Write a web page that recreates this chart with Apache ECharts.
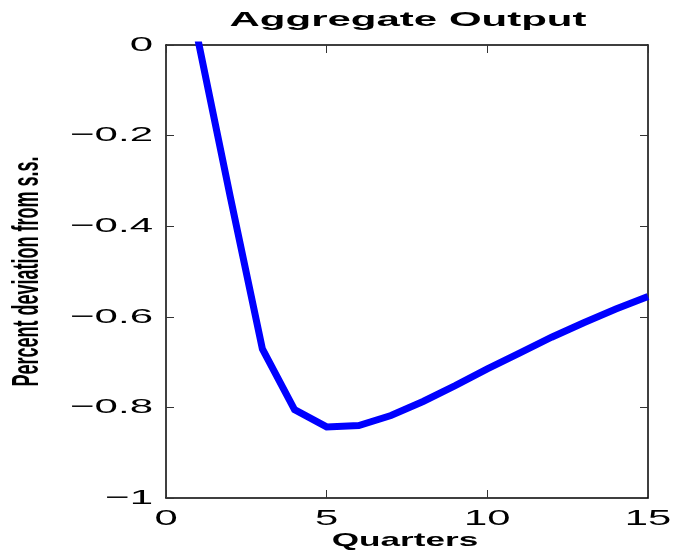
<!DOCTYPE html>
<html>
<head>
<meta charset="utf-8">
<title>Aggregate Output</title>
<script src="https://cdn.jsdelivr.net/npm/echarts@6/dist/echarts.min.js"></script>
<style>
  html, body { margin: 0; padding: 0; background: #fff; }
  #chart { width: 675px; height: 555px; }
</style>
</head>
<body>
<div id="chart"></div>
<script>
// quarters after the shock
var quarters = [1, 2, 3, 4, 5, 6, 7, 8, 9, 10, 11, 12, 13, 14, 15]
// percent deviation of output from steady state
var outputDev = [0.01, -0.335, -0.671, -0.805, -0.843, -0.840, -0.818, -0.787, -0.752, -0.715, -0.680, -0.645, -0.613, -0.583, -0.555]
var xTicks = [0, 5, 10, 15]
var yTicks = [0, -0.2, -0.4, -0.6, -0.8, -1]
var yTickLabels = ['0', '\u22120.2', '\u22120.4', '\u22120.6', '\u22120.8', '\u22121']

var FONT = '"Liberation Sans", Arial, Helvetica, sans-serif'
var chart = echarts.init(document.getElementById('chart'), null, { renderer: 'canvas' })

var boxAxis = {
  axisLine: { show: true, onZero: false, lineStyle: { color: '#000', width: 1.5 } },
  axisTick: { show: true, inside: true, length: 8, lineStyle: { color: '#333', width: 1 } },
  axisLabel: { show: false },
  splitLine: { show: false }
}

chart.setOption({
  animation: false,
  backgroundColor: '#fff',
  grid: {
    left: 166,
    right: 27,
    top: 45,
    bottom: 57,
    containLabel: false,
    outerBoundsMode: 'none'
  },
  xAxis: [
    Object.assign({ type: 'value', min: 0, max: 15, interval: 5, position: 'bottom' }, boxAxis),
    Object.assign({ type: 'value', min: 0, max: 15, interval: 5, position: 'top' }, boxAxis)
  ],
  yAxis: [
    Object.assign({ type: 'value', min: -1, max: 0, interval: 0.2, position: 'left' }, boxAxis),
    Object.assign({ type: 'value', min: -1, max: 0, interval: 0.2, position: 'right' }, boxAxis)
  ],
  series: [
    {
      type: 'line',
      data: quarters.map(function (q, i) { return [q, outputDev[i]] }),
      showSymbol: false,
      clip: true,
      lineStyle: { color: '#0000ff', width: 7, join: 'miter' }
    }
  ]
})

// MATLAB-style text is stretched horizontally, so draw it as scaled graphic text
// placed with the chart's own axis conversion
var texts = []
yTicks.forEach(function (v, i) {
  var p = chart.convertToPixel({ gridIndex: 0 }, [0, v])
  texts.push({
    type: 'text',
    x: p[0] - 13,
    y: p[1],
    scaleX: 2,
    style: { text: yTickLabels[i], font: '21px ' + FONT, fill: '#000', align: 'right', verticalAlign: 'middle' }
  })
})
xTicks.forEach(function (v) {
  var p = chart.convertToPixel({ gridIndex: 0 }, [v, -1])
  texts.push({
    type: 'text',
    x: p[0],
    y: p[1] + 21,
    scaleX: 1.9,
    style: { text: String(v), font: '22px ' + FONT, fill: '#000', align: 'center', verticalAlign: 'middle' }
  })
})
var topLeft = chart.convertToPixel({ gridIndex: 0 }, [0, 0])
var bottomRight = chart.convertToPixel({ gridIndex: 0 }, [15, -1])
var midX = (topLeft[0] + bottomRight[0]) / 2
var midY = (topLeft[1] + bottomRight[1]) / 2
texts.push({
  type: 'text',
  x: midX + 1,
  y: 20,
  scaleX: 2,
  style: { text: 'Aggregate Output', font: 'bold 21px ' + FONT, fill: '#000', align: 'center', verticalAlign: 'middle' }
})
texts.push({
  type: 'text',
  x: midX - 2,
  y: 541,
  scaleX: 1.85,
  style: { text: 'Quarters', font: 'bold 19px ' + FONT, fill: '#000', align: 'center', verticalAlign: 'middle' }
})
texts.push({
  type: 'text',
  x: 28,
  y: midY,
  rotation: Math.PI / 2,
  scaleY: 2,
  style: { text: 'Percent deviation from s.s.', font: 'bold 18px ' + FONT, fill: '#000', align: 'center', verticalAlign: 'middle' }
})

chart.setOption({ graphic: { elements: texts } })
</script>
</body>
</html>
